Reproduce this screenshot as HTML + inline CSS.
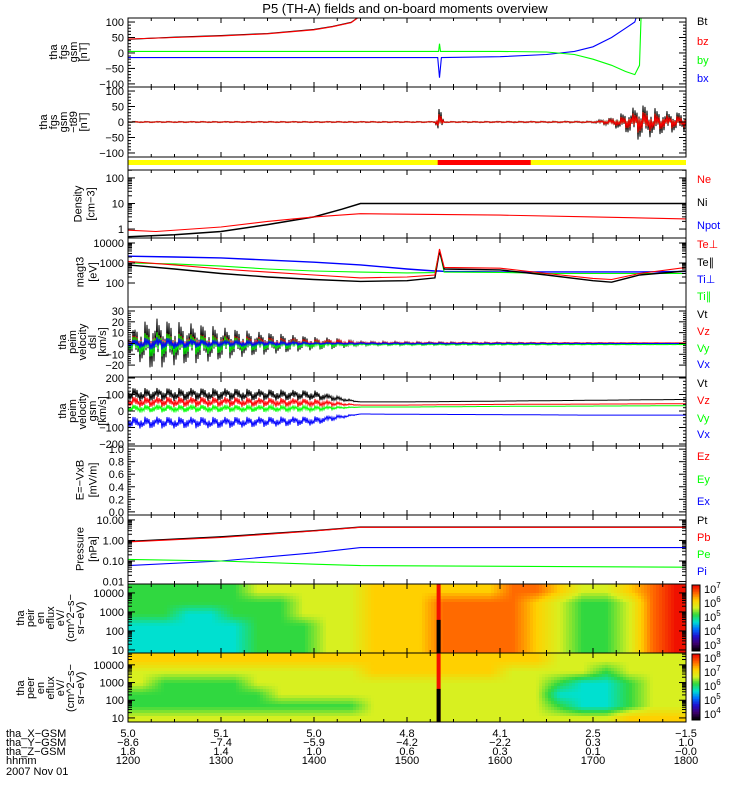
<!DOCTYPE html>
<html><head><meta charset="utf-8"><style>
body{margin:0;background:#fff;}
svg{display:block;font-family:"Liberation Sans",sans-serif;}
text{font-size:11px;}
</style></head><body>
<svg id="c" width="750" height="800" viewBox="0 0 750 800">
<text x="405" y="13" text-anchor="middle" style="font-size:13px">P5 (TH-A) fields and on-board moments overview</text>
</svg>
<script>
// ---------- data ----------
const hourTicks=[12,13,14,15,16,17,18];
const hhmmLabels=["1200","1300","1400","1500","1600","1700","1800"];
const xLabels=["5.0","5.1","5.0","4.8","4.1","2.5","-1.5"];
const yLabelsPos=["-8.6","-7.4","-5.9","-4.2","-2.2","0.3","1.0"];
const zLabels=["1.8","1.4","1.0","0.6","0.3","0.1","-0.0"];
// fgs gsm
const bzT=[12,12.5,13,13.5,14,14.2,14.4,14.5];
const bzV=[45,50,55,62,75,85,98,120];
const btV=[44,51,56,63,76,86,99,120];
const byT=[12,13,14,15,15.34,15.35,15.36,16,16.5,16.8,17,17.2,17.35,17.45,17.5,17.52,18];
const byV=[5,5,5,5,5,30,5,5,3,-5,-20,-40,-60,-70,-40,150,150];
const bxT=[12,14,15.33,15.35,15.37,16,16.5,16.8,17,17.2,17.35,17.45,17.5,18];
const bxV=[-15,-15,-15,-80,-15,-12,-5,5,20,50,80,100,150,150];
// fgs gsm-t89 noise envelope
const dT=[12,15.3,15.35,15.4,17,17.2,17.4,17.5,17.6,17.8,18];
const dAmp=[2,2,50,2,3,15,40,60,50,35,30];
// density
const niT=[12,12.5,13,13.5,14,14.3,14.5,18];
const niV=[0.5,0.6,0.8,1.5,3,6,10,10];
const neT=[12,12.3,13,13.5,14,14.5,15,16,17,18];
const neV=[0.9,0.8,1.2,2,3,4,3.8,3.5,3,2.5];
// temperatures
const tT=[12,12.5,13,13.5,14,14.5,15,15.3,15.35,15.4,16,16.5,17,17.2,17.5,18];
const tePerp=[2200,2000,1800,1400,1100,800,500,400,400,380,360,360,360,360,360,380];
const tePar=[800,500,300,200,150,120,130,180,4000,500,450,250,130,110,250,400];
const tiPerp=[1200,800,500,350,250,180,200,250,5000,600,550,300,170,150,300,600];
const tiPar=[1000,900,700,500,400,350,320,330,4000,350,340,300,300,300,300,300];
// velocity dsl (envelopes)
const vT=[12,12.25,12.5,12.75,13,13.25,13.5,13.75,14,14.25,14.5,18];
const vtAmp=[10,24,20,18,15,12,10,8,6,5,2,0];
const vzAmp=[6,10,9,8,7,6,5,4,3,3,1,0];
const vyAmp=[6,12,10,9,8,6,5,4,3,2,1,0];
const vxAmp=[3,6,5,4,3,3,2,2,1,1,1,0];
// velocity gsm
const gT=[12,13,14,14.5,15,16,17,18];
const gtMean=[100,100,95,55,55,60,65,70];
const gzMean=[55,55,50,36,36,40,42,44];
const gyMean=[15,15,15,24,24,28,30,32];
const gxMean=[-70,-70,-60,-18,-20,-22,-25,-25];
const gAmp=[40,38,30,0,0,0,0,0];
// pressure
const pT=[12,13,14,14.5,18];
const ptV=[0.9,1.5,3,4.5,4.5];
const pbV=[0.85,1.4,2.9,4.4,4.4];
const piV=[0.06,0.1,0.25,0.45,0.45];
const peV=[0.12,0.1,0.07,0.06,0.05];
// spectrograms: 24 time bins (15 min), 6 energy rows top->bottom, digit = color level
const ionGrid=[
"555556666677777788766789",
"555555566677788887655689",
"554455566677788887655689",
"444445556677788887655689",
"444445556677788887655689",
"444445556677788887655689"];
const eleGrid=[
"777777777777777777666666",
"666666666677777766665666",
"655556666666666666544566",
"555555666666666666444566",
"555555555566666666544566",
"666666666666666666666777"];
// ---------- helpers ----------
const svg=document.getElementById('c');
const NS='http://www.w3.org/2000/svg';
const X0=128,X1=686;
function X(t){return X0+(t-12)/6*(X1-X0);}
function mk(tag,at,parent){const e=document.createElementNS(NS,tag);for(const k in at)e.setAttribute(k,at[k]);(parent||svg).appendChild(e);return e;}
const panels={
 p1:{top:18,bot:87,min:-110,max:113,log:false},
 p2:{top:87,bot:157,min:-113,max:113,log:false},
 den:{top:170,bot:238,min:-0.35,max:2.31,log:true},
 tem:{top:238,bot:307,min:0.8,max:4.25,log:true},
 v1:{top:307,bot:377,min:-31,max:33.7,log:false},
 v2:{top:377,bot:446,min:-212,max:206,log:false},
 ef:{top:446,bot:515,min:-0.05,max:1.05,log:false},
 pr:{top:515,bot:584,min:-2.12,max:1.24,log:true},
 s1:{top:584,bot:653,min:0.84,max:4.47,log:true},
 s2:{top:653,bot:722,min:0.77,max:4.67,log:true}};
function Y(p,v){const u=p.log?Math.log10(v):v;return p.bot-(u-p.min)/(p.max-p.min)*(p.bot-p.top);}
let cid=0;
function clipFor(p){cid++;const d=mk('clipPath',{id:'cp'+cid});mk('rect',{x:X0,y:p.top,width:X1-X0,height:p.bot-p.top},d);return 'url(#cp'+cid+')';}
function interp(ts,vs,t){for(let i=0;i<ts.length-1;i++){if(t<=ts[i+1]){const f=(t-ts[i])/(ts[i+1]-ts[i]);return vs[i]+(vs[i+1]-vs[i])*f;}}return vs[vs.length-1];}
function line(pk,ts,vs,col,name,w){const p=panels[pk];let pts=ts.map((t,i)=>X(t).toFixed(1)+','+Y(p,vs[i]).toFixed(1)).join(' ');
 const e=mk('polyline',{points:pts,fill:'none',stroke:col,'stroke-width':w||1.1,'clip-path':clipFor(p)});
 
 }
const pat=[1,0.3,0.8,0.2,0.6,0.95,0.1,0.9,0.4,0.7,0.5,0.15,1,0.35,0.75,0.05,0.55];
function noisy(pk,ts,means,amps,col,name,sc){const p=panels[pk];let pts=[];let k=0;
 for(let x=X0;x<=X1;x+=1){const t=12+(x-X0)/(X1-X0)*6;const m=Array.isArray(means)?interp(ts,means,t):means;const a=interp(ts,amps,t)*(sc||1);
  const s=(k%2?1:-1)*pat[k%pat.length];k++;pts.push(x+','+Y(p,m+a*s).toFixed(1));}
 const e=mk('polyline',{points:pts.join(' '),fill:'none',stroke:col,'stroke-width':1,'clip-path':clipFor(p)});
 
 }
function frame(pk,name){const p=panels[pk];const r=mk('rect',{x:X0,y:p.top,width:X1-X0,height:p.bot-p.top,fill:'none',stroke:'#000','stroke-width':1});
 
 
 hourTicks.forEach(t=>{for(let q=0;q<4;q++){const tt=t+q*0.25;if(tt>18)break;const L=q==0?5:3;mk('line',{x1:X(tt),x2:X(tt),y1:p.top,y2:p.top+L,stroke:'#000'});mk('line',{x1:X(tt),x2:X(tt),y1:p.bot,y2:p.bot-L,stroke:'#000'});}});}
function yticks(pk,vals,labs,name){const p=panels[pk];vals.forEach((v,i)=>{const y=Y(p,v);
 mk('line',{x1:X0,x2:X0+7,y1:y,y2:y,stroke:'#000'});mk('line',{x1:X1,x2:X1-7,y1:y,y2:y,stroke:'#000'});
 const t=mk('text',{x:124,y:y+4,'text-anchor':'end'});t.textContent=labs[i];
 
 
 if(p.log){for(let m=2;m<10;m++){const yy=Y(p,v*m);if(yy>p.top&&yy<p.bot){mk('line',{x1:X0,x2:X0+4,y1:yy,y2:yy,stroke:'#000'});mk('line',{x1:X1,x2:X1-4,y1:yy,y2:yy,stroke:'#000'});}}}
 else if(i<vals.length-1){const n=5;for(let m=1;m<n;m++){const yy=y+(Y(p,vals[i+1])-y)*m/n;mk('line',{x1:X0,x2:X0+3,y1:yy,y2:yy,stroke:'#000'});mk('line',{x1:X1,x2:X1-3,y1:yy,y2:yy,stroke:'#000'});}}});}
function ylab(lines,cx,cy,name,lh){lh=lh||10;const g=mk('g',{});
 lines.forEach((s,i)=>{const x=cx+(i-(lines.length-1)/2)*lh;const t=mk('text',{x:x+4,y:cy,'text-anchor':'middle',transform:'rotate(-90 '+(x+4)+' '+cy+')'},g);t.textContent=s;});}
function rlab(s,y,col,name){const t=mk('text',{x:697,y:y,fill:col});t.textContent=s;}
const cmap=[[0,0,0],[64,0,112],[32,16,208],[0,112,255],[0,224,208],[48,216,64],[216,240,32],[255,208,0],[255,106,0],[240,16,0]];
function col(v){v=Math.max(0,Math.min(9,v));const i=Math.min(8,Math.floor(v)),f=v-i;const a=cmap[i],b=cmap[i+1];
 return 'rgb('+a.map((c,j)=>Math.round(c+(b[j]-c)*f)).join(',')+')';}
function spec(pk,grid,name){const p=panels[pk];const g=mk('g',{'clip-path':clipFor(p)});
 const rows=grid.length,cols=grid[0].length;const cw=3,ch=3;const H=p.bot-p.top;
 for(let y=p.top;y<p.bot;y+=ch){const rf=Math.max(0,Math.min(rows-1,(y-p.top)/H*rows-0.5));const r0=Math.floor(rf),r1=Math.min(rows-1,r0+1),fr=rf-r0;
  for(let x=X0;x<X1;x+=cw){const t=12+(x-X0)/(X1-X0)*6;const cf=Math.max(0,Math.min(cols-1,(t-12)/0.25-0.5));const c0=Math.floor(cf),c1=Math.min(cols-1,c0+1),fc=cf-c0;
   const v=(+grid[r0][c0])*(1-fr)*(1-fc)+(+grid[r0][c1])*(1-fr)*fc+(+grid[r1][c0])*fr*(1-fc)+(+grid[r1][c1])*fr*fc;
   mk('rect',{x:x,y:y,width:cw+0.5,height:ch+0.5,fill:col(v)},g);}}
 mk('rect',{x:X(15.34)-2,y:p.top,width:4,height:H,fill:'#f01000'},g);
 mk('rect',{x:X(15.34)-2,y:p.top+H*0.52,width:4,height:H*0.48,fill:'#000'},g);}
function cbar(y0,y1,labs,name){const g=mk('g',{});
 const n=40;for(let i=0;i<n;i++){mk('rect',{x:692,y:y1-(i+1)*(y1-y0)/n,width:8,height:(y1-y0)/n+0.5,fill:col(i/(n-1)*9)},g);}
 mk('rect',{x:692,y:y0,width:8,height:y1-y0,fill:'none',stroke:'#000'},g);
 labs.forEach((e,i)=>{const y=y1-6-i*(y1-y0-10)/(labs.length-1);const t=mk('text',{x:704,y:y+4},g);t.textContent='10';const s=mk('tspan',{dy:-5,style:'font-size:8px'},t);s.textContent=e;});}
// ---------- draw ----------
spec('s1',ionGrid,'ion-spectrogram');spec('s2',eleGrid,'electron-spectrogram');
line('p1',bxT,bxV,'#0000ff','bx-line');line('p1',byT,byV,'#00ff00','by-line');line('p1',bzT,btV,'#000','bt-line');line('p1',bzT,bzV,'#ff0000','bz-line');
noisy('p2',dT,0,dAmp,'#00ff00','dby-line',0.7);noisy('p2',dT,0,dAmp,'#000','dbt-line',1);noisy('p2',dT,0,dAmp,'#ff0000','dbz-line',0.6);
line('den',niT,niV,'#000','ni-line',1.5);line('den',neT,neV,'#ff0000','ne-line');
line('tem',tT,tePerp,'#0000ff','te-perp-line',1.4);line('tem',tT,tiPar,'#00ff00','ti-par-line');line('tem',tT,tePar,'#000','te-par-line',1.4);line('tem',tT,tiPerp,'#ff0000','ti-perp-line');
noisy('v1',vT,0,vtAmp,'#000','vt-dsl-line');noisy('v1',vT,0.5,vzAmp,'#ff0000','vz-dsl-line');noisy('v1',vT,-1,vyAmp,'#00ff00','vy-dsl-line');noisy('v1',vT,0,vxAmp,'#0000ff','vx-dsl-line');
noisy('v2',gT,gtMean,gAmp,'#000','vt-gsm-line');noisy('v2',gT,gzMean,gAmp,'#ff0000','vz-gsm-line',0.8);noisy('v2',gT,gyMean,gAmp,'#00ff00','vy-gsm-line',0.6);noisy('v2',gT,gxMean,gAmp,'#0000ff','vx-gsm-line',0.9);
line('pr',pT,ptV,'#000','pt-line',1.4);line('pr',pT,pbV,'#ff0000','pb-line');line('pr',pT,piV,'#0000ff','pi-line');line('pr',pT,peV,'#00ff00','pe-line');
[['p1','fgs-gsm-panel'],['p2','fgs-t89-panel'],['den','density-panel'],['tem','temperature-panel'],['v1','velocity-dsl-panel'],['v2','velocity-gsm-panel'],['ef','efield-panel'],['pr','pressure-panel'],['s1','ion-spectrogram-panel'],['s2','electron-spectrogram-panel']].forEach(a=>frame(a[0],a[1]));
yticks('p1',[100,50,0,-50,-100],['100','50','0','−50','−100'],'fgs');
yticks('p2',[100,50,0,-50,-100],['100','50','0','−50','−100'],'t89');
yticks('den',[1,10,100],['1','10','100'],'density');
yticks('tem',[100,1000,10000],['100','1000','10000'],'temp');
yticks('v1',[-20,-10,0,10,20,30],['−20','−10','0','10','20','30'],'vdsl');
yticks('v2',[-200,-100,0,100,200],['−200','−100','0','100','200'],'vgsm');
yticks('ef',[0,0.2,0.4,0.6,0.8,1.0],['0.0','0.2','0.4','0.6','0.8','1.0'],'efield');
yticks('pr',[0.01,0.1,1,10],['0.01','0.10','1.00','10.00'],'pressure');
yticks('s1',[10,100,1000,10000],['10','100','1000','10000'],'ion-energy');
yticks('s2',[10,100,1000,10000],['10','100','1000','10000'],'ele-energy');
const mb=mk('g',{});
mk('rect',{x:X0,y:160,width:X1-X0,height:5,fill:'#ffff00'},mb);mk('rect',{x:X(15.33),y:160,width:X(16.33)-X(15.33),height:5,fill:'#ff0000'},mb);
mk('line',{x1:X0,x2:X0,y1:157,y2:170,stroke:'#000'},mb);
ylab(['tha','fgs','gsm','[nT]'],68,52,'fgs-axis-title');
ylab(['tha','fgs','gsm','−t89','[nT]'],63,122,'t89-axis-title');
ylab(['Density','[cm−3]'],84,204,'density-axis-title',13);
ylab(['magt3','[eV]'],86,272,'temp-axis-title',13);
ylab(['tha','peim','velocity','dsl','[km/s]'],82,342,'vdsl-axis-title');
ylab(['tha','peim','velocity','gsm','[km/s]'],82,411,'vgsm-axis-title');
ylab(['E=−VxB','[mV/m]'],86,480,'efield-axis-title',13);
ylab(['Pressure','[nPa]'],86,549,'pressure-axis-title',13);
ylab(['tha','peir','en','eflux','eV/','(cm^2−s−','sr−eV)'],50,618,'ion-eflux-axis-title');
ylab(['tha','peer','en','eflux','eV/','(cm^2−s−','sr−eV)'],50,688,'ele-eflux-axis-title');
rlab('Bt',25,'#000','legend-bt');rlab('bz',45,'#ff0000','legend-bz');rlab('by',64,'#00ff00','legend-by');rlab('bx',82,'#0000ff','legend-bx');
rlab('Ne',183,'#ff0000','legend-ne');rlab('Ni',206,'#000','legend-ni');rlab('Npot',229,'#0000ff','legend-npot');
rlab('Te⊥',248,'#ff0000','legend-te-perp');rlab('Te∥',266,'#000','legend-te-par');rlab('Ti⊥',283,'#0000ff','legend-ti-perp');rlab('Ti∥',300,'#00ff00','legend-ti-par');
rlab('Vt',318,'#000','legend-vt-dsl');rlab('Vz',335,'#ff0000','legend-vz-dsl');rlab('Vy',352,'#00ff00','legend-vy-dsl');rlab('Vx',368,'#0000ff','legend-vx-dsl');
rlab('Vt',387,'#000','legend-vt-gsm');rlab('Vz',404,'#ff0000','legend-vz-gsm');rlab('Vy',422,'#00ff00','legend-vy-gsm');rlab('Vx',438,'#0000ff','legend-vx-gsm');
rlab('Ez',460,'#ff0000','legend-ez');rlab('Ey',483,'#00ff00','legend-ey');rlab('Ex',505,'#0000ff','legend-ex');
rlab('Pt',524,'#000','legend-pt');rlab('Pb',541,'#ff0000','legend-pb');rlab('Pe',558,'#00ff00','legend-pe');rlab('Pi',575,'#0000ff','legend-pi');
cbar(585,651,['3','4','5','6','7'],'ion-colorbar');cbar(654,720,['4','5','6','7','8'],'electron-colorbar');
const rowsB=[['tha_X−GSM',xLabels,737],['tha_Y−GSM',yLabelsPos,746],['tha_Z−GSM',zLabels,755],['hhmm',hhmmLabels,764]];
rowsB.forEach((r,ri)=>{const t=mk('text',{x:6,y:r[2]});t.textContent=r[0];
 hourTicks.forEach((h,i)=>{const l=mk('text',{x:X(h),y:r[2],'text-anchor':'middle'});l.textContent=r[1][i].replace('-','−');
  
  });});
const dt=mk('text',{x:6,y:775});dt.textContent='2007 Nov 01';
</script>
</body></html>
